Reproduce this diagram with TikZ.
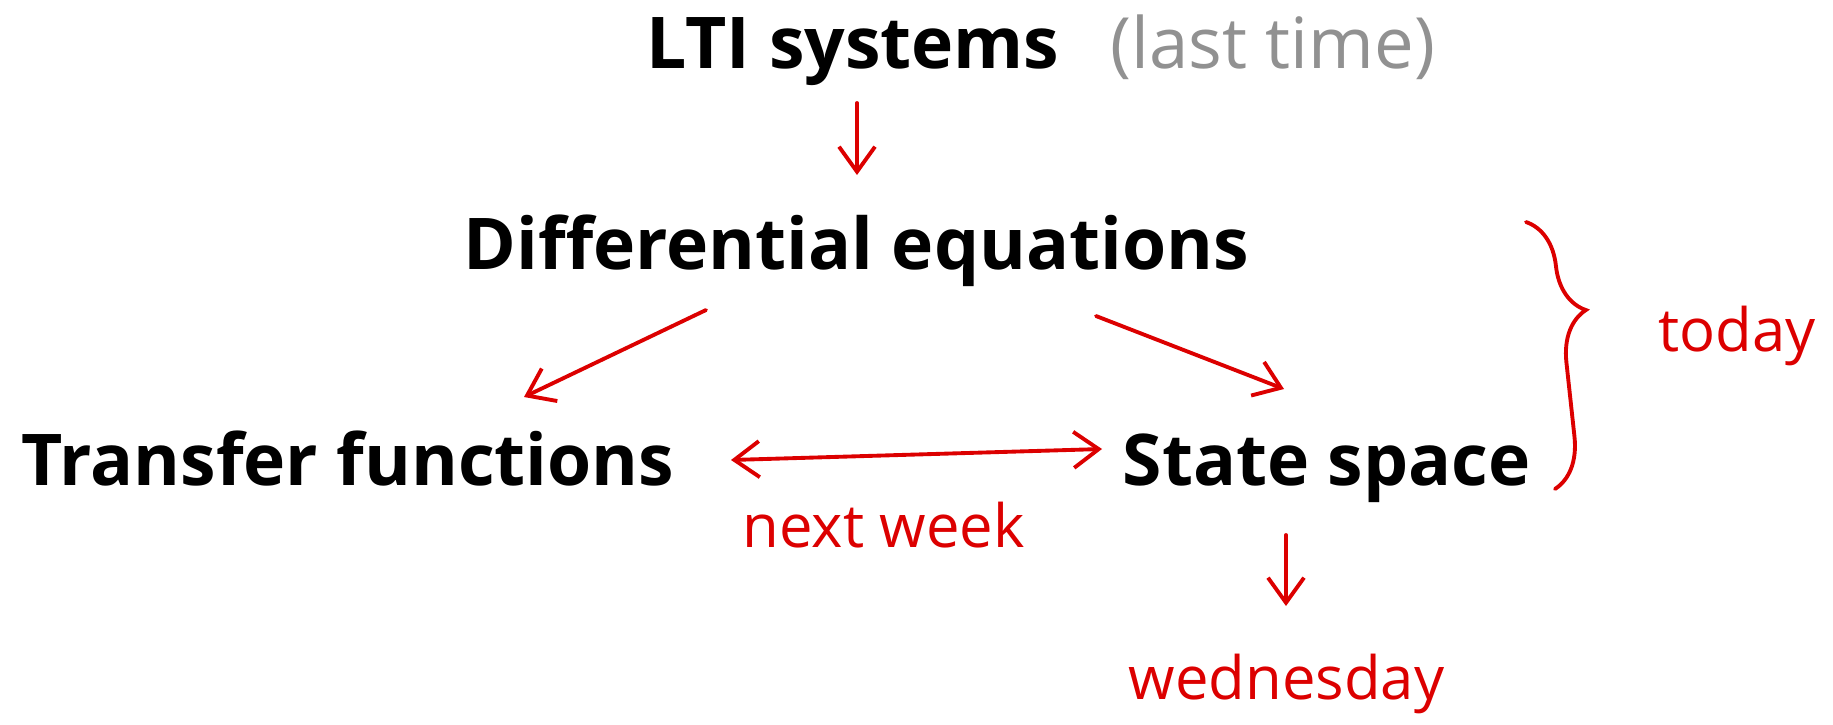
\documentclass[tikz,border=0pt]{standalone}
\usepackage{fontspec}
\setmainfont{Open Sans}
\usetikzlibrary{positioning,arrows.meta,decorations.pathreplacing,calc}
\definecolor{inkred}{RGB}{220,0,0}
\definecolor{notegray}{RGB}{145,145,145}
\tikzset{
  topic/.style={inner sep=0pt,anchor=base west,font=\fontsize{20.3}{24}\selectfont\bfseries},
  aside/.style={inner sep=0pt,anchor=base west,text=notegray,font=\fontsize{20.1}{24}\selectfont},
  scrawl/.style={inner sep=0pt,anchor=base west,text=inkred,font=\fontsize{17}{20}\selectfont},
  ink/.style={-{Straight Barb[length=2.5mm,width=3.6mm]},draw=inkred,line width=1.1pt,line cap=round,line join=round},
  inkboth/.style={ink,{Straight Barb[length=2.5mm,width=3.6mm]}-{Straight Barb[length=2.5mm,width=3.6mm]}},
  inkbrace/.style={draw=inkred,line width=1.1pt,line cap=round,decorate,decoration={brace,amplitude=5mm,aspect=0.35}}
}

\begin{document}
\begin{tikzpicture}[x=0.01cm,y=-0.01cm]
  \useasboundingbox (0,0) rectangle (1833,724);
  % topics
  \node[topic] (lti) at (646,68) {LTI systems};
  \node[aside] (last) at (1110,68) {(last time)};
  \node[topic] (diff) at (463,269) {Differential equations};
  \node[topic] (tf) at (21,485) {Transfer functions};
  \node[topic] (ss) at (1122,485) {State space};
  % handwritten notes
  \node[scrawl] (next) at (742,547) {next week};
  \node[scrawl] (wed) at (1128,699) {wednesday};
  \node[scrawl] (today) at (1658,351) {today};
  % arrows
  \draw[ink] ([shift={(211,35)}]lti.base west) -- ([shift={(394,-94)}]diff.base west);
  \draw[ink] ([shift={(243,41)}]diff.base west) -- ([shift={(503,-88)}]tf.base west);
  \draw[ink] ([shift={(633,47)}]diff.base west) -- ([shift={(162,-96)}]ss.base west);
  \draw[inkboth] ([shift={(710,-25)}]tf.base west) -- ([shift={(-20,-36)}]ss.base west);
  \draw[ink] ([shift={(164,50)}]ss.base west) -- ([shift={(158,-93)}]wed.base west);
  \draw[inkbrace] ([shift={(1063,-47)}]diff.base west) -- ([shift={(433,4)}]ss.base west);
\end{tikzpicture}
\end{document}
